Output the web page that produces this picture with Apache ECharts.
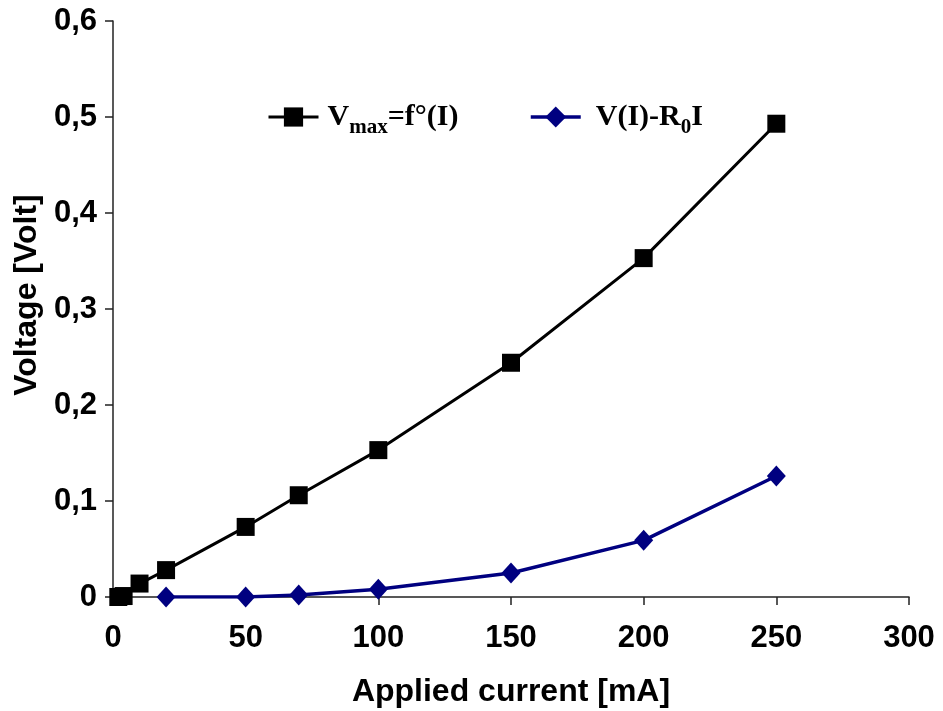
<!DOCTYPE html>
<html>
<head>
<meta charset="utf-8">
<script src="https://cdn.jsdelivr.net/npm/echarts@6/dist/echarts.min.js"></script>
<style>
  html, body { margin: 0; padding: 0; background: #fff; }
  #chart { width: 943px; height: 711px; }
</style>
</head>
<body>
<div id="chart"></div>
<script>
// Applied current (mA) and measured voltages (V)
const vmaxCurrent = [2, 4, 10, 20, 50, 70, 100, 150, 200, 250];
const vmaxVoltage = [0.000, 0.001, 0.014, 0.028, 0.073, 0.106, 0.153, 0.244, 0.353, 0.493];

const corrCurrent = [20, 50, 70, 100, 150, 200, 250];
const corrVoltage = [0.000, 0.000, 0.002, 0.008, 0.025, 0.059, 0.126];

const xTicks = [0, 50, 100, 150, 200, 250, 300];
const yTicks = [0, 0.1, 0.2, 0.3, 0.4, 0.5, 0.6];

const pairs = (xs, ys) => xs.map((x, i) => [x, ys[i]]);

const sansFont = '"Liberation Sans", Arial, sans-serif';
const serifFont = '"Liberation Serif", "Times New Roman", serif';

const legendRich = {
  b: { fontFamily: serifFont, fontWeight: 'bold', fontSize: 30, color: '#000' },
  s: { fontFamily: serifFont, fontWeight: 'bold', fontSize: 21, color: '#000', padding: [22, 0, 0, 0] }
};

const chart = echarts.init(document.getElementById('chart'), null, { renderer: 'canvas' });

chart.setOption({
  animation: false,
  backgroundColor: '#fff',
  grid: { left: 113, right: 34, top: 21, bottom: 114, containLabel: false, outerBoundsMode: 'none' },
  legend: [
    {
      data: ['Vmax'],
      left: 262, top: 97,
      itemWidth: 50, itemHeight: 24,
      lineStyle: { width: 3 },
      formatter: () => '{b|V}{s|max}{b|=f°(I)}',
      textStyle: { rich: legendRich, padding: [0, 0, 0, 4] }
    },
    {
      data: ['V(I)-R0I'],
      left: 524, top: 97,
      itemWidth: 50, itemHeight: 26,
      lineStyle: { width: 3.5 },
      formatter: () => '{b|V(I)-R}{s|0}{b|I}',
      textStyle: { rich: legendRich, padding: [0, 0, 0, 10] }
    }
  ],
  xAxis: {
    type: 'value',
    min: xTicks[0], max: xTicks[xTicks.length - 1], interval: 50,
    name: 'Applied current [mA]',
    nameLocation: 'middle', nameGap: 79,
    nameTextStyle: { fontFamily: sansFont, fontWeight: 'bold', fontSize: 32, color: '#000' },
    axisLine: { show: true, lineStyle: { color: '#222', width: 1.5 } },
    axisTick: { show: true, length: 8, lineStyle: { color: '#222', width: 1.5 } },
    axisLabel: { fontFamily: sansFont, fontWeight: 'bold', fontSize: 31, color: '#000', margin: 26,
                 customValues: xTicks },
    splitLine: { show: false }
  },
  yAxis: {
    type: 'value',
    min: yTicks[0], max: yTicks[yTicks.length - 1], interval: 0.1,
    name: 'Voltage [Volt]',
    nameLocation: 'middle', nameGap: 67, nameRotate: 90,
    nameTextStyle: { fontFamily: sansFont, fontWeight: 'bold', fontSize: 32, color: '#000', padding: [0, 0, 0, 28] },
    axisLine: { show: true, lineStyle: { color: '#222', width: 1.5 } },
    axisTick: { show: true, length: 8, lineStyle: { color: '#222', width: 1.5 } },
    axisLabel: {
      fontFamily: sansFont, fontWeight: 'bold', fontSize: 31, color: '#000', margin: 16,
      formatter: v => (v === 0 ? '0' : v.toFixed(1).replace('.', ','))
    },
    splitLine: { show: false }
  },
  series: [
    {
      name: 'Vmax',
      type: 'line',
      data: pairs(vmaxCurrent, vmaxVoltage),
      symbol: 'rect', symbolSize: 18,
      lineStyle: { color: '#000', width: 3 },
      itemStyle: { color: '#000' },
      z: 3
    },
    {
      name: 'V(I)-R0I',
      type: 'line',
      data: pairs(corrCurrent, corrVoltage),
      symbol: 'diamond', symbolSize: [19, 21],
      lineStyle: { color: '#000080', width: 3.5 },
      itemStyle: { color: '#000080' },
      z: 4
    }
  ]
});
</script>
</body>
</html>
